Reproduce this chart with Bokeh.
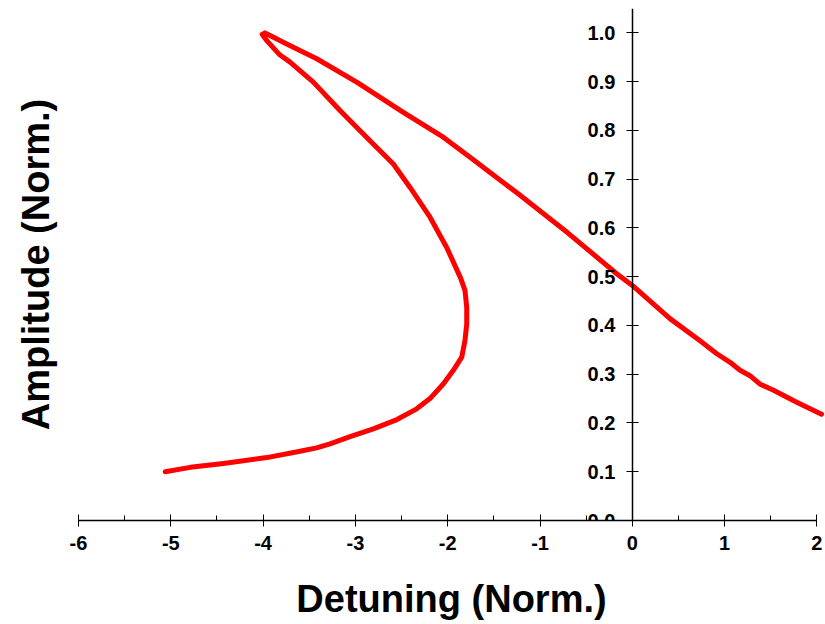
from bokeh.plotting import figure
from bokeh.models import (LinearAxis, SingleIntervalTicker, FixedTicker,
                          PrintfTickFormatter, Range1d)
from bokeh.embed import file_html
from bokeh.resources import INLINE

# Detuning (x) and amplitude (y) along the response curve
detuning = [-5.06, -4.79, -4.43, -3.96, -3.60, -3.42, -3.275, -3.058, -2.806,
            -2.55, -2.336, -2.192, -2.048, -1.939, -1.848, -1.813, -1.794,
            -1.794, -1.813, -1.86, -2.011, -2.192, -2.408, -2.589, -2.842,
            -3.167, -3.456, -3.708, -3.82, -3.96, -4.01, -3.98, -3.92, -3.744,
            -3.419, -2.986, -2.481, -2.048, -1.758, -1.25, -0.7, -0.169, 0.0,
            0.408, 0.730, 0.915, 1.055, 1.167, 1.275, 1.38, 1.53, 1.744, 1.82,
            2.05]
amplitude = [0.100, 0.109, 0.117, 0.129, 0.142, 0.149, 0.157, 0.172, 0.188,
             0.207, 0.229, 0.250, 0.280, 0.308, 0.335, 0.369, 0.403,
             0.437, 0.472, 0.497, 0.560, 0.622, 0.683, 0.731, 0.779,
             0.841, 0.899, 0.940, 0.955, 0.984, 0.997, 1.000, 0.994, 0.977,
             0.947, 0.899, 0.837, 0.786, 0.745, 0.672, 0.590, 0.506, 0.482,
             0.414, 0.369, 0.342, 0.325, 0.308, 0.297, 0.280, 0.267, 0.246,
             0.239, 0.218]

x_ticks_interval = 1
y_ticks_interval = 0.1
x_title = "Detuning (Norm.)"
y_title = "Amplitude (Norm.)"

FONT = "Liberation Sans"

p = figure(width=825, height=624, output_backend="svg", toolbar_location=None,
           x_range=Range1d(-6, 2.082), y_range=Range1d(0, 1.05),
           min_border_left=78, min_border_right=1, min_border_top=8,
           min_border_bottom=104, x_axis_type=None, y_axis_type=None)
p.outline_line_color = None
p.background_fill_color = "white"
p.border_fill_color = "white"

p.line(detuning, amplitude, line_color="#FF0000", line_width=5,
       line_join="round", line_cap="round")

# bottom axis (sits on y = 0 which is the frame bottom)
xa = LinearAxis(ticker=SingleIntervalTicker(interval=x_ticks_interval, num_minor_ticks=2),
                formatter=PrintfTickFormatter(format="%d"), bounds=(-6, 2))
xa.axis_line_width = 1.5
xa.axis_line_color = "black"
xa.major_tick_in = 6
xa.major_tick_out = 6
xa.major_tick_line_color = "black"
xa.minor_tick_in = 5
xa.minor_tick_out = 0
xa.minor_tick_line_color = "black"
xa.major_label_text_font = FONT
xa.major_label_text_font_style = "bold"
xa.major_label_text_font_size = "20px"
xa.major_label_text_color = "black"
xa.major_label_standoff = 9
xa.axis_label = x_title
xa.axis_label_text_font = FONT
xa.axis_label_text_font_style = "bold"
xa.axis_label_text_font_size = "38px"
xa.axis_label_text_color = "black"
xa.axis_label_standoff = 25
p.add_layout(xa, "below")

# left axis only carrying the title
la = LinearAxis(ticker=FixedTicker(ticks=[]))
la.axis_line_color = None
la.major_tick_line_color = None
la.minor_tick_line_color = None
la.axis_label = y_title
la.axis_label_text_font = FONT
la.axis_label_text_font_style = "bold"
la.axis_label_text_font_size = "38px"
la.axis_label_text_color = "black"
la.axis_label_standoff = 22
p.add_layout(la, "left")

# y axis crossing at x = 0
ya = LinearAxis(fixed_location=0,
                ticker=SingleIntervalTicker(interval=y_ticks_interval, num_minor_ticks=0),
                formatter=PrintfTickFormatter(format="%.1f"), bounds=(0, 1.05))
ya.axis_line_width = 1.5
ya.axis_line_color = "black"
ya.major_tick_in = 6
ya.major_tick_out = 6
ya.major_tick_line_color = "black"
ya.minor_tick_line_color = None
ya.major_label_text_font = FONT
ya.major_label_text_font_style = "bold"
ya.major_label_text_font_size = "20px"
ya.major_label_text_color = "black"
ya.major_label_standoff = 11
p.add_layout(ya, "left")

open("out.html", "w").write(file_html(p, INLINE))
